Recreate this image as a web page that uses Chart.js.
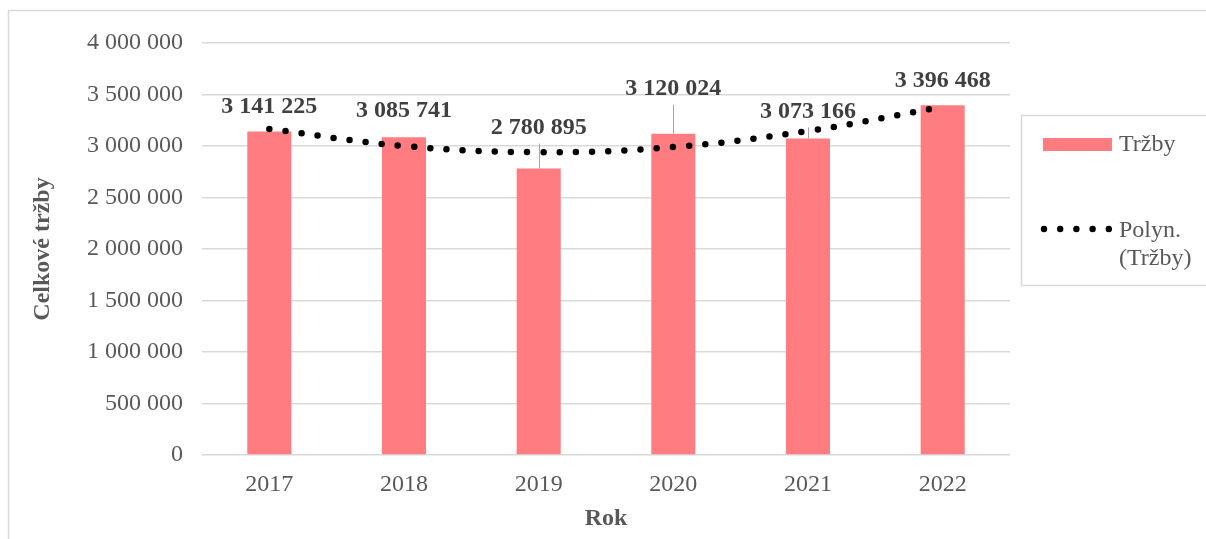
<!DOCTYPE html>
<html lang="cs">
<head>
<meta charset="utf-8">
<title>Celkové tržby</title>
<script src="https://cdn.jsdelivr.net/npm/chart.js@4.4.1/dist/chart.umd.min.js"></script>
<style>
  html, body { margin: 0; padding: 0; background: #fff; }
  #wrap { position: relative; width: 1206px; height: 539px; }
</style>
</head>
<body>
<div id="wrap"><canvas id="salesChart" width="1206" height="539"></canvas></div>
<script>
// Years and total sales
const years = ['2017', '2018', '2019', '2020', '2021', '2022'];
const sales = [3141225, 3085741, 2780895, 3120024, 3073166, 3396468];
// Polynomial trend line value at each year
const trend = [3165000, 3000000, 2940000, 2990000, 3146000, 3380000];
const yMin = 0;
const yMax = 4000000;
const yStep = 500000;

// Where the value labels sit (px above the bar top) and which get a leader line
const labelLift = [-25, -26, -41, -45, -27, -24];
const labelLeader = [false, false, true, true, true, false];

const barColor = '#FF7C80';
const textColor = '#595959';
const serif = "'Liberation Serif', 'Times New Roman', serif";

// 3141225 -> "3 141 225"
function spaced(n) {
    return String(n).replace(/\B(?=(\d{3})+(?!\d))/g, ' ');
}

const decorations = {
    id: 'decorations',
    beforeDraw(chart) {
        const c = chart.ctx;
        c.save();
        c.fillStyle = '#fff';
        c.fillRect(0, 0, chart.width, chart.height);
        c.strokeStyle = '#d9d9d9';
        c.lineWidth = 1.5;
        c.strokeRect(8.5, 10.5, chart.width + 10, chart.height + 10);
        c.restore();
    },
    afterDatasetsDraw(chart) {
        const c = chart.ctx;
        // dataset 1 holds the bars
        const bars = chart.getDatasetMeta(1).data;
        c.save();
        c.font = 'bold 24px ' + serif;
        c.textAlign = 'center';
        c.textBaseline = 'middle';
        bars.forEach((bar, i) => {
            const ly = bar.y + labelLift[i];
            if (labelLeader[i]) {
                c.strokeStyle = '#a6a6a6';
                c.lineWidth = 1;
                c.beginPath();
                c.moveTo(Math.round(bar.x) + 0.5, ly + 16);
                c.lineTo(Math.round(bar.x) + 0.5, bar.y);
                c.stroke();
            }
            c.fillStyle = '#404040';
            c.fillText(spaced(sales[i]), bar.x, ly);
        });
        c.restore();
    },
    afterDraw(chart) {
        const c = chart.ctx;
        c.save();
        // legend frame
        c.strokeStyle = '#d9d9d9';
        c.lineWidth = 1.5;
        c.strokeRect(1021.5, 115.5, 200, 170);
        // bar entry
        c.fillStyle = barColor;
        c.fillRect(1043, 138, 69, 13);
        c.fillStyle = textColor;
        c.font = '24px ' + serif;
        c.textAlign = 'left';
        c.textBaseline = 'middle';
        c.fillText('Tržby', 1119, 145);
        // trend entry
        c.fillStyle = '#000';
        for (let i = 0; i < 5; i++) {
            c.beginPath();
            c.arc(1044 + i * 16.2, 229, 3.2, 0, Math.PI * 2);
            c.fill();
        }
        c.fillStyle = textColor;
        c.fillText('Polyn.', 1119, 231);
        c.fillText('(Tržby)', 1119, 259);
        c.restore();
    }
};

const ctx = document.getElementById('salesChart').getContext('2d');
new Chart(ctx, {
    type: 'bar',
    data: {
        labels: years,
        datasets: [{
            type: 'line',
            label: 'Polyn. (Tržby)',
            data: trend,
            borderColor: '#000',
            borderWidth: 6.5,
            borderDash: [0, 16.2],
            borderCapStyle: 'round',
            pointRadius: 0,
            tension: 0.4,
            fill: false,
            order: 0
        }, {
            label: 'Tržby',
            data: sales,
            backgroundColor: barColor,
            barPercentage: 0.327,
            categoryPercentage: 1.0,
            order: 1
        }]
    },
    options: {
        responsive: false,
        animation: false,
        devicePixelRatio: 1,
        layout: {
            padding: { top: 43, right: 196, bottom: 0, left: 0 }
        },
        plugins: {
            legend: { display: false },
            tooltip: { enabled: false }
        },
        scales: {
            x: {
                grid: { display: false },
                border: { display: false },
                ticks: {
                    color: textColor,
                    font: { family: serif, size: 24 },
                    padding: 7
                },
                title: {
                    display: true,
                    text: 'Rok',
                    color: textColor,
                    font: { family: serif, size: 24, weight: 'bold' },
                    padding: { top: 0, bottom: 6 }
                },
                afterFit(scale) { scale.height = 84; }
            },
            y: {
                min: yMin,
                max: yMax,
                grid: { color: '#d9d9d9', lineWidth: 1.5, drawTicks: false },
                border: { display: false },
                ticks: {
                    stepSize: yStep,
                    color: textColor,
                    font: { family: serif, size: 24 },
                    padding: 19,
                    callback: v => spaced(v)
                },
                title: {
                    display: true,
                    text: 'Celkové tržby',
                    color: textColor,
                    font: { family: serif, size: 24, weight: 'bold' },
                    padding: { top: 28, bottom: 0 }
                },
                afterFit(scale) { scale.width = 202; }
            }
        }
    },
    plugins: [decorations]
});
</script>
</body>
</html>
